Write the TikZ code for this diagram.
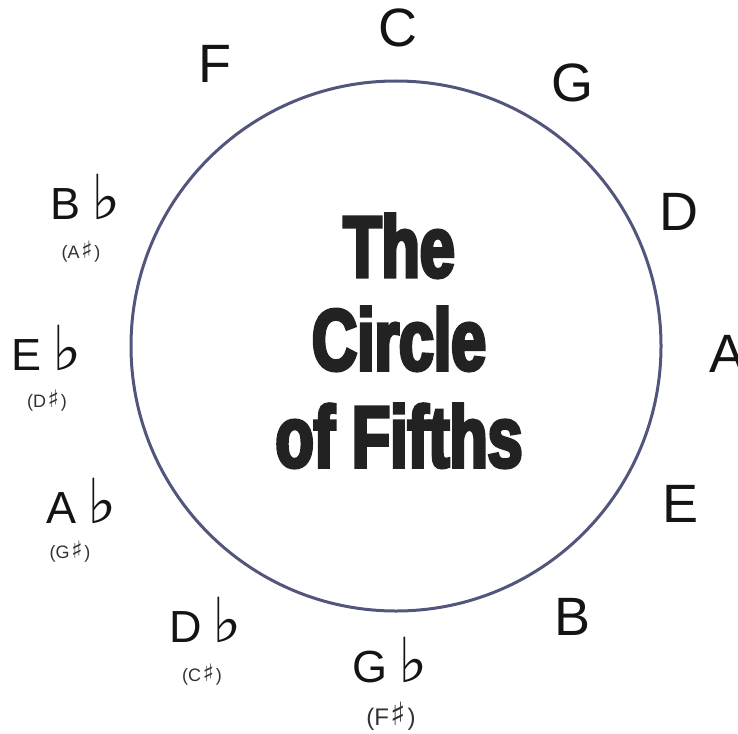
\documentclass[tikz,border=0pt]{standalone}
\usepackage{fontspec}
\setmainfont{Liberation Sans}
\newfontfamily\symfont{DejaVu Sans}
\newfontfamily\titlefont[FakeStretch=0.72,FakeBold=4]{Liberation Sans}
\definecolor{ringcol}{RGB}{82,86,124}
\definecolor{inkcol}{RGB}{20,20,20}
\definecolor{titlecol}{RGB}{34,34,34}
\definecolor{subcol}{RGB}{50,50,50}
\newcommand{\flt}{\hspace{11pt}{\symfont\fontsize{62}{62}\selectfont ♭}}
\newcommand{\shp}[1]{\kern1.5pt{\symfont\fontsize{#1}{#1}\selectfont ♯}\kern1.5pt}
\begin{document}
\begin{tikzpicture}[x=1pt,y=-1pt,
  notelbl/.style={inner sep=0pt, anchor=base, font=\fontsize{54}{54}\selectfont, text=inkcol},
  flatlbl/.style={inner sep=0pt, anchor=base west, font=\fontsize{45}{45}\selectfont, text=inkcol},
  enhlbl/.style={inner sep=0pt, font=\fontsize{18}{18}\selectfont, text=subcol},
  ttl/.style={inner sep=0pt, anchor=base, font=\titlefont\bfseries\fontsize{87}{87}\selectfont, text=titlecol},
  ringnode/.style={draw=ringcol, line width=3pt, circle, minimum size=530pt, inner sep=0pt}]
\useasboundingbox (0,0) rectangle (738,733);
\node[ringnode] (ring) at (396,346) {};
% title
\node[ttl] (t1) at (399,277) {The};
\node[ttl] (t2) at (399,370) {Circle};
\node[ttl] (t3) at (399,467) {of Fifths};
% naturals
\node[notelbl] (nC) at (398,47) {C};
\node[notelbl] (nG) at (572,102) {G};
\node[notelbl] (nD) at (679,230) {D};
\node[notelbl] (nA) at (727,372) {A};
\node[notelbl] (nE) at (680,522) {E};
\node[notelbl] (nB) at (572,635) {B};
\node[notelbl] (nF) at (215,83) {F};
% flats
\node[flatlbl] (nBb) at (50,219) {B\flt};
\node[flatlbl] (nEb) at (11,370) {E\flt};
\node[flatlbl] (nAb) at (46,523) {A\flt};
\node[flatlbl] (nDb) at (169,642) {D\flt};
\node[flatlbl] (nGb) at (352,682) {G\flt};
% enharmonics
\node[enhlbl] (sAs) at (81,252) {(A\shp{24})};
\node[enhlbl] (sDs) at (47,401) {(D\shp{24})};
\node[enhlbl] (sGs) at (70,552) {(G\shp{24})};
\node[enhlbl] (sCs) at (202,675) {(C\shp{24})};
\node[enhlbl, font=\fontsize{24}{24}\selectfont] (sFs) at (391,716) {(F\shp{32})};
\end{tikzpicture}
\end{document}
